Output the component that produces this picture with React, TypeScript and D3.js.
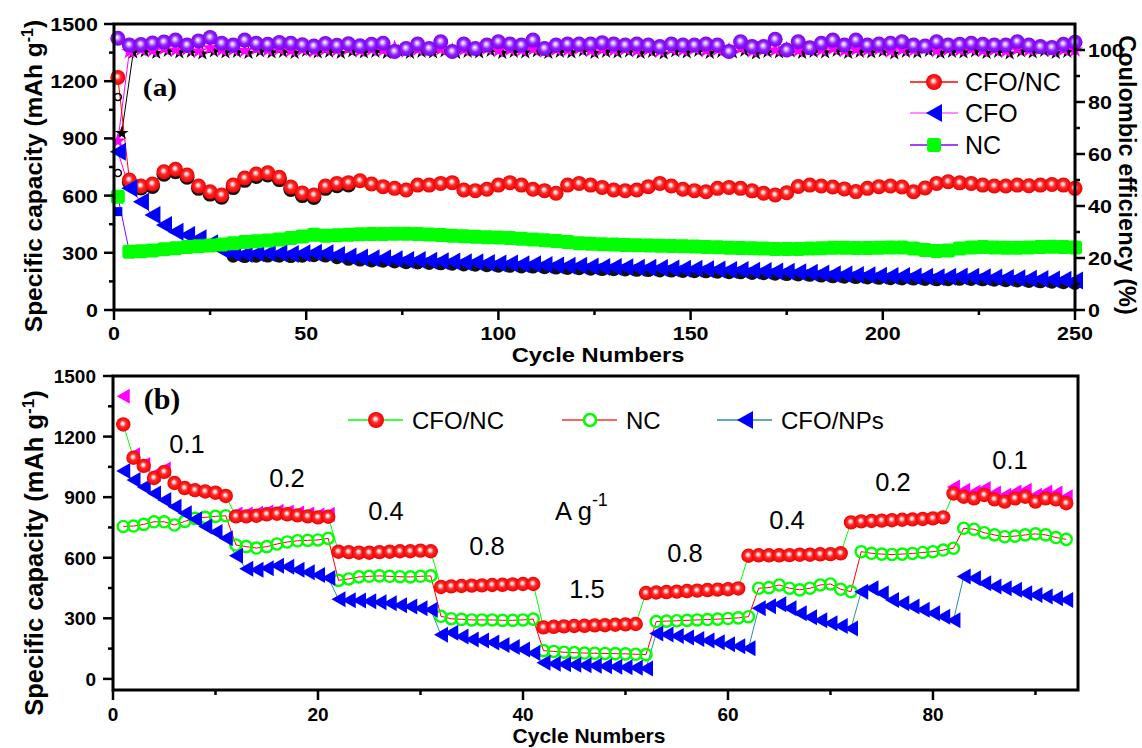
import React from 'react';
import * as d3 from 'd3';

const FONT = "'Liberation Sans', Arial, Helvetica, sans-serif";
const SERIF = "'Liberation Serif', 'Times New Roman', serif";

// ---------------- Panel (a): cycling at constant current ----------------
const cyclesA = d3.range(1, 251, 3); // marker every 3rd cycle
const capCFONC = [
  1220, 682, 650, 661, 725, 738, 708, 650, 620, 603, 655, 692,
  713, 720, 696, 645, 613, 603, 650, 664, 668, 678, 661, 647,
  638, 629, 655, 655, 664, 668, 629, 626, 633, 655, 668, 655,
  633, 626, 612, 655, 664, 655, 643, 629, 626, 629, 647, 664,
  650, 633, 626, 620, 638, 643, 638, 625, 612, 603, 615, 648,
  655, 650, 645, 635, 621, 638, 647, 650, 645, 620, 640, 664,
  673, 667, 664, 655, 650, 650, 655, 652, 655, 658, 655, 638,
];
const capCFO = [
  830, 638, 568, 498, 446, 411, 393, 376, 350, 315, 297, 294,
  297, 297, 297, 294, 297, 300, 297, 288, 280, 276, 271, 271,
  266, 262, 262, 258, 256, 254, 250, 250, 246, 244, 244, 240,
  240, 236, 234, 232, 232, 228, 226, 226, 224, 222, 222, 220,
  218, 216, 216, 214, 212, 210, 210, 206, 204, 202, 200, 198,
  196, 192, 188, 186, 184, 182, 180, 178, 178, 176, 174, 172,
  174, 176, 174, 172, 170, 168, 166, 164, 162, 160, 158, 155,
];
const capNC = [
  594, 306, 308, 312, 318, 324, 330, 334, 338, 343, 350, 356,
  360, 365, 370, 378, 385, 395, 390, 392, 395, 397, 398, 398,
  400, 400, 398, 396, 394, 390, 387, 384, 382, 380, 377, 374,
  370, 366, 362, 356, 350, 347, 345, 343, 341, 339, 338, 337,
  336, 334, 333, 331, 329, 327, 325, 324, 322, 320, 320, 320,
  322, 324, 326, 326, 325, 325, 326, 328, 328, 322, 315, 310,
  312, 322, 328, 330, 328, 326, 326, 328, 330, 332, 330, 328,
];
const ceNC = [
  104.5, 101.9, 102.1, 102.7, 103.1, 103.8, 101.9, 103.5, 104.8, 102.6, 101.9, 103.8,
  102.6, 102.2, 102.9, 102.6, 102.0, 101.5, 102.5, 101.8, 102.4, 101.6, 102.2, 102.6,
  99.4, 100.6, 102.3, 100.6, 103.2, 99.4, 102.3, 100.6, 101.9, 103.2, 102.3, 101.9,
  103.8, 100.6, 101.9, 102.3, 102.3, 102.3, 102.8, 102.3, 101.9, 102.3, 101.9, 101.3,
  102.3, 101.9, 101.9, 102.3, 101.9, 99.4, 103.2, 101.3, 101.3, 104.1, 100.0, 103.2,
  100.9, 102.6, 103.8, 101.9, 103.8, 101.9, 102.3, 102.6, 103.2, 101.9, 101.5, 103.2,
  101.9, 102.2, 102.6, 102.2, 101.9, 101.9, 103.2, 101.9, 101.3, 101.0, 102.2, 103.0,
];
const ceCFO = [
  65.0, 99.4, 100.2, 99.8, 100.6, 100.0, 100.4, 99.6, 100.8, 100.0, 100.2, 99.8,
  100.6, 100.0, 100.4, 99.8, 100.2, 99.6, 100.4, 100.0, 100.6, 99.8, 100.2, 100.0,
  100.8, 99.6, 100.2, 100.0, 100.4, 99.8, 100.2, 100.0, 100.6, 99.8, 100.2, 100.0,
  100.4, 99.6, 100.2, 100.0, 100.6, 99.8, 100.2, 100.0, 100.4, 99.8, 100.2, 99.6,
  100.4, 100.0, 100.6, 99.8, 100.2, 100.0, 100.8, 99.6, 100.2, 100.0, 100.4, 99.8,
  100.2, 100.0, 100.6, 99.8, 100.2, 100.0, 100.4, 99.6, 100.2, 100.0, 100.6, 99.8,
  100.2, 100.0, 100.4, 99.8, 100.2, 99.6, 100.4, 100.0, 100.6, 99.8, 100.2, 100.0,
];
const cyclesBlackCE = d3.range(2, 250, 3);
const ceBlack = [
  68.0, 99.0, 99.4, 98.8, 99.6, 99.0, 99.2, 98.6, 99.4, 99.0, 99.2, 98.8,
  99.4, 99.0, 99.2, 98.8, 99.6, 99.0, 99.2, 98.8, 99.4, 99.0, 99.2, 98.8,
  99.6, 98.8, 99.2, 99.0, 99.4, 98.8, 99.2, 99.0, 99.6, 98.8, 99.2, 99.0,
  99.4, 98.8, 99.2, 99.0, 99.6, 98.8, 99.2, 99.0, 99.4, 98.8, 99.2, 98.6,
  99.4, 99.0, 99.6, 98.8, 99.2, 99.0, 99.6, 98.6, 99.2, 99.0, 99.4, 98.8,
  99.2, 99.0, 99.6, 98.8, 99.2, 99.0, 99.4, 98.6, 99.2, 99.0, 99.6, 98.8,
  99.2, 99.0, 99.4, 98.8, 99.2, 98.6, 99.4, 99.0, 99.6, 98.8, 99.2,
];
const cyclesBlackA = d3.range(4, 62, 3);
const capBlackA = [670, 640, 648, 712, 725, 696, 638, 608, 591, 642, 680, 700, 708, 684, 632, 600, 590, 638, 652, 656];
const cyclesBlackB = d3.range(31, 251, 3);
const capBlackB = [
  282, 280, 282, 283, 282, 280, 282, 285, 283, 274,
  266, 262, 257, 256, 252, 248, 247, 244, 242, 240,
  236, 235, 232, 230, 229, 226, 225, 222, 220, 218,
  217, 214, 212, 211, 210, 208, 207, 205, 204, 202,
  201, 200, 198, 196, 195, 192, 190, 188, 186, 184,
  182, 178, 174, 172, 170, 168, 166, 164, 163, 162,
  160, 158, 159, 161, 160, 158, 156, 154, 152, 150,
  148, 146, 143, 140,
];
const firstCycleOpen = [1117, 718];
const firstCycleSquare = [516];

// ---------------- Panel (b): rate capability ----------------
const cyclesB = d3.range(1, 94);
const rateCFONC = [
  1260, 1095, 1055, 995, 1025, 970, 945, 935, 928, 922, 906,
  805, 805, 808, 815, 818, 815, 810, 805, 800, 803,
  630, 628, 625, 625, 628, 630, 632, 632, 635, 632,
  455, 458, 460, 462, 463, 465, 466, 468, 470, 470,
  255, 258, 260, 262, 263, 265, 266, 268, 270, 272,
  425, 428, 430, 432, 435, 437, 440, 442, 444, 448,
  610, 612, 612, 612, 613, 615, 615, 617, 618, 622,
  775, 780, 782, 784, 786, 788, 790, 792, 795, 800,
  918, 902, 894, 911, 889, 878, 894, 902, 878, 894, 889, 870,
];
const rateNC = [
  755, 757, 765, 778, 778, 762, 780, 795, 800, 805, 808,
  663, 655, 648, 655, 668, 678, 684, 686, 688, 696,
  488, 495, 505, 508, 510, 508, 506, 505, 508, 510,
  310, 298, 295, 292, 292, 292, 290, 290, 292, 296,
  140, 136, 132, 130, 128, 127, 126, 125, 124, 122, 120,
  284, 286, 288, 290, 292, 294, 296, 299, 302, 308,
  449, 452, 465, 449, 441, 449, 465, 470, 444, 432,
  630, 622, 618, 616, 618, 621, 626, 630, 638, 647,
  746, 741, 724, 713, 704, 707, 713, 718, 713, 700, 691,
];
const rateCFONPs = [
  1030, 985, 950, 918, 886, 853, 820, 790, 755, 728, 696,
  610, 545, 540, 548, 560, 555, 540, 528, 515, 500,
  395, 390, 388, 385, 380, 375, 365, 358, 350, 342,
  218, 228, 210, 195, 190, 180, 168, 158, 145, 128,
  80, 75, 72, 70, 68, 65, 62, 60, 58, 55, 52,
  225, 220, 212, 205, 198, 190, 182, 172, 162, 152,
  350, 360, 370, 350, 325, 305, 290, 275, 262, 250,
  432, 449, 424, 391, 375, 358, 342, 325, 308, 290,
  507, 498, 474, 457, 449, 441, 424, 416, 408, 399, 391,
];
const cyclesMagenta = [1, 2, 3, 4, 5, 12, 13, 14, 15, 16, 17, 18, 19, 20, 21, 82, 83, 84, 85, 86, 87, 88, 89, 90, 91, 92, 93];
const rateMagenta = [1400, 1110, 1062, 1012, 1040, 817, 817, 820, 827, 830, 827, 822, 817, 812, 815, 950, 934, 926, 943, 921, 910, 926, 934, 910, 926, 921, 902];

const legendA = ['CFO/NC', 'CFO', 'NC'];
const legendB = ['CFO/NC', 'NC', 'CFO/NPs'];
const rateLabels = ['0.1', '0.2', '0.4', '0.8', '1.5', '0.8', '0.4', '0.2', '0.1'];

const xTicksA = [0, 50, 100, 150, 200, 250];
const xMinorA = [25, 75, 125, 175, 225];
const yTicks = [0, 300, 600, 900, 1200, 1500];
const yMinor = [150, 450, 750, 1050, 1350];
const ceTicks = [0, 20, 40, 60, 80, 100];
const ceMinor = [10, 30, 50, 70, 90];
const xTicksB = [0, 20, 40, 60, 80];
const xMinorB = [10, 30, 50, 70, 90];

const RED = '#ff0000';
const BLUE = '#0000ff';
const GREEN = '#00ff00';
const PURPLE = '#8800ff';
const MAGENTA = '#ff00ff';

const triPath = (cx: number, cy: number, hw = 7.5, hh = 8.5) =>
  `M${cx - hw},${cy}L${cx + hw},${cy - hh}L${cx + hw},${cy + hh}Z`;

const Txt = ({ x, y, sx = 1, rot = 0, anchor = 'middle', size = 19, weight = 'bold', family = FONT, children }: any) => (
  <text
    transform={`translate(${x},${y}) rotate(${rot}) scale(${sx},1)`}
    textAnchor={anchor}
    fontSize={size}
    fontWeight={weight}
    fontFamily={family}
    fill="#000"
  >
    {children}
  </text>
);

export default function App() {
  const xA = d3.scaleLinear().domain([0, 250]).range([114, 1075]);
  const yA = d3.scaleLinear().domain([0, 1500]).range([310, 24]);
  const yCE = d3.scaleLinear().domain([0, 110]).range([310, 24]);
  const xB = d3.scaleLinear().domain([0, 94.15]).range([113, 1078]);
  const yB = d3.scaleLinear().domain([-55, 1500]).range([690, 376]);

  const lineOf = (xs: number[], vals: number[], xS: any, yS: any) =>
    d3.line<number>().x((_, i) => xS(xs[i])).y((v) => yS(v))(vals) || '';

  const star = d3.symbol().type(d3.symbolStar).size(80)() || '';
  const starSmall = d3.symbol().type(d3.symbolStar).size(60)() || '';

  const axW = 3;
  const tickW = 2.5;

  return (
    <svg width={1142} height={748} style={{ position: 'absolute', left: 0, top: 0, background: '#fff' }}>
      <defs>
        <radialGradient id="ballRed" cx="0.5" cy="0.5" r="0.5" fx="0.45" fy="0.42">
          <stop offset="0" stopColor="#ffffff" />
          <stop offset="0.18" stopColor="#ffd0d0" />
          <stop offset="0.45" stopColor="#ff2a2a" />
          <stop offset="1" stopColor="#ee0000" />
        </radialGradient>
        <radialGradient id="ballPurple" cx="0.5" cy="0.5" r="0.5" fx="0.45" fy="0.42">
          <stop offset="0" stopColor="#ffffff" />
          <stop offset="0.22" stopColor="#d9b3ff" />
          <stop offset="0.55" stopColor="#9020ff" />
          <stop offset="1" stopColor="#7a00ee" />
        </radialGradient>
      </defs>
      <rect x={0} y={0} width={1142} height={748} fill="#fff" />

      {/* ================= Panel (a) ================= */}
      <path d={lineOf(cyclesBlackCE, ceBlack, xA, yCE)} fill="none" stroke="#000" strokeWidth={1} />
      <path d={lineOf(cyclesA, ceCFO, xA, yCE)} fill="none" stroke={MAGENTA} strokeWidth={1} />
      <path d={lineOf(cyclesA, ceNC, xA, yCE)} fill="none" stroke={PURPLE} strokeWidth={1} />
      <path d={lineOf(cyclesA, capCFONC, xA, yA)} fill="none" stroke={RED} strokeWidth={1} />
      <path d={lineOf(cyclesA, capCFO, xA, yA)} fill="none" stroke={MAGENTA} strokeWidth={1} />
      <path d={lineOf(cyclesA, capNC, xA, yA)} fill="none" stroke={PURPLE} strokeWidth={1} />

      {ceBlack.map((v, i) => (
        <path key={'bs' + i} d={starSmall} transform={`translate(${xA(cyclesBlackCE[i])},${yCE(v)})`} fill="#000" />
      ))}
      {ceCFO.map((v, i) => (
        <path key={'ps' + i} d={star} transform={`translate(${xA(cyclesA[i])},${yCE(v)})`} fill={MAGENTA} />
      ))}
      {ceNC.map((v, i) => (
        <circle key={'pc' + i} cx={xA(cyclesA[i])} cy={yCE(v)} r={7.5} fill="url(#ballPurple)" />
      ))}

      {firstCycleOpen.map((v, i) => (
        <circle key={'fo' + i} cx={xA(1)} cy={yA(v)} r={3.5} fill="none" stroke="#000" strokeWidth={1.5} />
      ))}
      {capBlackA.map((v, i) => (
        <circle key={'ba' + i} cx={xA(cyclesBlackA[i])} cy={yA(v)} r={7.5} fill="#111" />
      ))}
      {capCFONC.map((v, i) => (
        <circle key={'ra' + i} cx={xA(cyclesA[i])} cy={yA(v)} r={7.5} fill="url(#ballRed)" />
      ))}
      {capBlackB.map((v, i) => (
        <circle key={'bb' + i} cx={xA(cyclesBlackB[i])} cy={yA(v)} r={6.5} fill="#111" />
      ))}
      {capCFO.map((v, i) => (
        <path key={'ta' + i} d={triPath(xA(cyclesA[i]), yA(v), 8, 9)} fill={BLUE} />
      ))}
      {firstCycleSquare.map((v, i) => (
        <rect key={'sq' + i} x={xA(1) - 4.5} y={yA(v) - 4.5} width={9} height={9} fill={BLUE} />
      ))}
      {capNC.map((v, i) => (
        <rect key={'ga' + i} x={xA(cyclesA[i]) - 7} y={yA(v) - 7} width={14} height={14} rx={3} fill={GREEN} />
      ))}

      {/* frame (a) */}
      <rect x={xA(0)} y={yA(1500)} width={xA(250) - xA(0)} height={yA(0) - yA(1500)} fill="none" stroke="#000" strokeWidth={axW} />
      {yTicks.map((t) => (
        <line key={'ya' + t} x1={xA(0) - 10} x2={xA(0)} y1={yA(t)} y2={yA(t)} stroke="#000" strokeWidth={tickW} />
      ))}
      {yMinor.map((t) => (
        <line key={'yam' + t} x1={xA(0) - 5} x2={xA(0)} y1={yA(t)} y2={yA(t)} stroke="#000" strokeWidth={tickW} />
      ))}
      {xTicksA.map((t) => (
        <line key={'xa' + t} x1={xA(t)} x2={xA(t)} y1={yA(0)} y2={yA(0) + 10} stroke="#000" strokeWidth={tickW} />
      ))}
      {xMinorA.map((t) => (
        <line key={'xam' + t} x1={xA(t)} x2={xA(t)} y1={yA(0)} y2={yA(0) + 5} stroke="#000" strokeWidth={tickW} />
      ))}
      {ceTicks.map((t) => (
        <line key={'ce' + t} x1={xA(250)} x2={xA(250) + 10} y1={yCE(t)} y2={yCE(t)} stroke="#000" strokeWidth={tickW} />
      ))}
      {ceMinor.map((t) => (
        <line key={'cem' + t} x1={xA(250)} x2={xA(250) + 5} y1={yCE(t)} y2={yCE(t)} stroke="#000" strokeWidth={tickW} />
      ))}
      {yTicks.map((t) => (
        <Txt key={'yal' + t} x={98} y={yA(t) + 7} sx={1.13} anchor="end" size={19}>{t}</Txt>
      ))}
      {xTicksA.map((t) => (
        <Txt key={'xal' + t} x={xA(t)} y={340} sx={1.13} size={19}>{t}</Txt>
      ))}
      {ceTicks.map((t) => (
        <Txt key={'cel' + t} x={1088} y={yCE(t) + 7} sx={1.13} anchor="start" size={19}>{t}</Txt>
      ))}
      <Txt x={598} y={362} sx={1.13} size={21}>Cycle Numbers</Txt>
      <text transform="translate(42,176) rotate(-90)" textAnchor="middle" fontSize={24.5} fontWeight="bold" fontFamily={FONT}>
        Specific capacity (mAh g<tspan dy={-9} fontSize={16}>-1</tspan><tspan dy={9}>)</tspan>
      </text>
      <text transform="translate(1119,175) rotate(90)" textAnchor="middle" fontSize={23.5} fontWeight="bold" fontFamily={FONT}>
        Coulombic efficiency (%)
      </text>
      <Txt x={160} y={96} sx={1.13} size={26} family={SERIF}>(a)</Txt>

      {/* legend (a) */}
      {legendA.map((name, i) => {
        const ly = [82, 113, 145][i];
        const lc = [RED, '#ff66ff', PURPLE][i];
        return (
          <g key={'lga' + i}>
            <line x1={910} x2={958} y1={ly} y2={ly} stroke={lc} strokeWidth={1.5} />
            {i === 0 && <circle cx={934} cy={ly} r={8} fill="url(#ballRed)" />}
            {i === 1 && <path d={triPath(934, ly, 8, 9)} fill={BLUE} />}
            {i === 2 && <rect x={927} y={ly - 7} width={14} height={14} rx={3} fill={GREEN} />}
            <Txt x={965} y={ly + 9} anchor="start" size={25} weight="normal">{name}</Txt>
          </g>
        );
      })}

      {/* ================= Panel (b) ================= */}
      <path d={lineOf(cyclesB, rateNC, xB, yB)} fill="none" stroke={RED} strokeWidth={1} />
      <path d={lineOf(cyclesB, rateCFONPs, xB, yB)} fill="none" stroke="#2a8f9f" strokeWidth={1} />
      <path d={lineOf(cyclesB, rateCFONC, xB, yB)} fill="none" stroke={GREEN} strokeWidth={1} />
      {rateNC.map((v, i) => (
        <circle key={'gb' + i} cx={xB(cyclesB[i])} cy={yB(v)} r={5.6} fill="none" stroke={GREEN} strokeWidth={2.4} />
      ))}
      {rateCFONPs.map((v, i) => (
        <path key={'tb' + i} d={triPath(xB(cyclesB[i]), yB(v), 7, 8)} fill={BLUE} />
      ))}
      {rateMagenta.map((v, i) => (
        <path key={'mb' + i} d={triPath(xB(cyclesMagenta[i]), yB(v), 6.5, 7.5)} fill={MAGENTA} />
      ))}
      {rateCFONC.map((v, i) => (
        <circle key={'rb' + i} cx={xB(cyclesB[i])} cy={yB(v)} r={7.2} fill="url(#ballRed)" />
      ))}

      {/* frame (b) */}
      <rect x={xB(0)} y={yB(1500)} width={xB(94.15) - xB(0)} height={yB(-55) - yB(1500)} fill="none" stroke="#000" strokeWidth={axW} />
      {yTicks.map((t) => (
        <line key={'yb' + t} x1={xB(0) - 10} x2={xB(0)} y1={yB(t)} y2={yB(t)} stroke="#000" strokeWidth={tickW} />
      ))}
      {yMinor.map((t) => (
        <line key={'ybm' + t} x1={xB(0) - 5} x2={xB(0)} y1={yB(t)} y2={yB(t)} stroke="#000" strokeWidth={tickW} />
      ))}
      {xTicksB.map((t) => (
        <line key={'xb' + t} x1={xB(t)} x2={xB(t)} y1={690} y2={700} stroke="#000" strokeWidth={tickW} />
      ))}
      {xMinorB.map((t) => (
        <line key={'xbm' + t} x1={xB(t)} x2={xB(t)} y1={690} y2={695} stroke="#000" strokeWidth={tickW} />
      ))}
      {yTicks.map((t) => (
        <Txt key={'ybl' + t} x={96} y={yB(t) + 7} anchor="end" size={19}>{t}</Txt>
      ))}
      {xTicksB.map((t) => (
        <Txt key={'xbl' + t} x={xB(t)} y={721} size={19}>{t}</Txt>
      ))}
      <Txt x={589} y={742.5} size={21}>Cycle Numbers</Txt>
      <text transform="translate(43,553) rotate(-90)" textAnchor="middle" fontSize={25.5} fontWeight="bold" fontFamily={FONT}>
        Specific capacity (mAh g<tspan dy={-9} fontSize={17}>-1</tspan><tspan dy={9}>)</tspan>
      </text>
      <Txt x={162} y={409} size={30} family={SERIF}>(b)</Txt>

      {/* legend (b) */}
      {legendB.map((name, i) => {
        const lx = [348, 562, 717][i];
        const lc = [GREEN, '#ff3030', '#2a8f9f'][i];
        const mx = lx + 28;
        return (
          <g key={'lgb' + i}>
            <line x1={lx} x2={lx + 55} y1={420} y2={420} stroke={lc} strokeWidth={1.5} />
            {i === 0 && <circle cx={mx} cy={420} r={8} fill="url(#ballRed)" />}
            {i === 1 && <circle cx={mx} cy={420} r={6} fill="#fff" stroke={GREEN} strokeWidth={2.6} />}
            {i === 2 && <path d={triPath(mx, 420, 8, 9)} fill={BLUE} />}
            <Txt x={lx + 64} y={428.5} anchor="start" size={24} weight="normal">{name}</Txt>
          </g>
        );
      })}

      {/* current-density annotations */}
      {rateLabels.map((t, i) => {
        const p = [[187, 453], [287, 487], [386, 520], [487, 555], [587, 598], [685, 562], [787, 529], [893, 491], [1010, 469]][i];
        return <Txt key={'rl' + i} x={p[0]} y={p[1]} size={25.5} weight="normal">{t}</Txt>;
      })}
      <text x={555} y={520} fontSize={25.5} fontFamily={FONT}>
        A g<tspan dy={-14} fontSize={18}>-1</tspan>
      </text>
    </svg>
  );
}
